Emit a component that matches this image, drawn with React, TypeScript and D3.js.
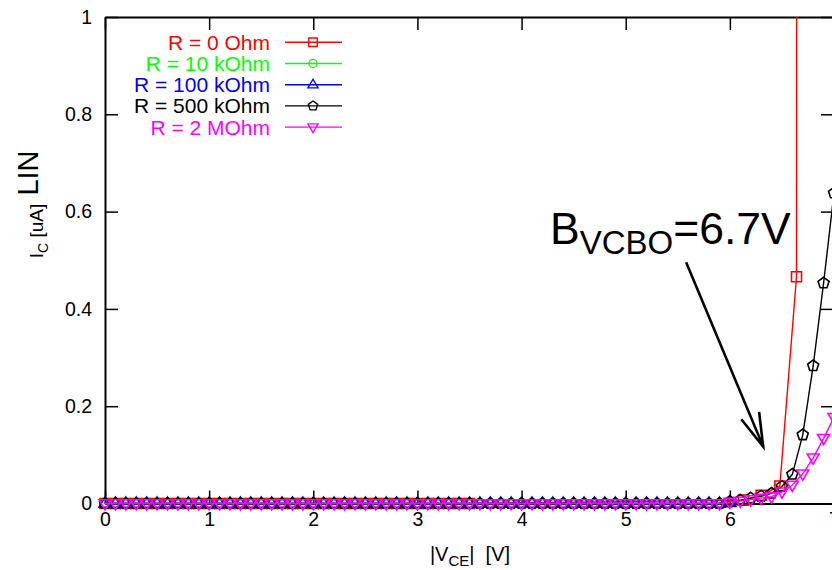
import React, { useEffect, useRef } from "react";
import * as d3 from "d3";

// sweep voltages |V_CE| [V]
const vSweep = [
  0.0, 0.1, 0.2, 0.3, 0.4, 0.5, 0.6, 0.7, 0.8, 0.9,
  1.0, 1.1, 1.2, 1.3, 1.4, 1.5, 1.6, 1.7, 1.8, 1.9,
  2.0, 2.1, 2.2, 2.3, 2.4, 2.5, 2.6, 2.7, 2.8, 2.9,
  3.0, 3.1, 3.2, 3.3, 3.4, 3.5, 3.6, 3.7, 3.8, 3.9,
  4.0, 4.1, 4.2, 4.3, 4.4, 4.5, 4.6, 4.7, 4.8, 4.9,
  5.0, 5.1, 5.2, 5.3, 5.4, 5.5, 5.6, 5.7, 5.8, 5.9,
  6.0, 6.1, 6.2, 6.3, 6.4, 6.5, 6.6, 6.7, 6.8, 6.9,
  7.0, 7.1,
];

// R = 0 Ohm has its own voltages
const vRed = [
  0.0, 0.1, 0.2, 0.3, 0.4, 0.5, 0.6, 0.7, 0.8, 0.9,
  1.0, 1.1, 1.2, 1.3, 1.4, 1.5, 1.6, 1.7, 1.8, 1.9,
  2.0, 2.1, 2.2, 2.3, 2.4, 2.5, 2.6, 2.7, 2.8, 2.9,
  3.0, 3.1, 3.2, 3.3, 3.4, 3.5,
  6.13, 6.3, 6.48, 6.64, 6.65,
];
const iRed = [
  0, 0, 0, 0, 0, 0, 0, 0, 0, 0,
  0, 0, 0, 0, 0, 0, 0, 0, 0, 0,
  0, 0, 0, 0, 0, 0, 0, 0, 0, 0,
  0, 0, 0, 0, 0, 0,
  0.007, 0.017, 0.036, 0.466, 5.0,
];

// I_C [uA] for the other resistors (on vSweep)
const iGreen = [
  0, 0, 0, 0, 0, 0, 0, 0, 0, 0,
  0, 0, 0, 0, 0, 0, 0, 0, 0, 0,
  0, 0, 0, 0, 0, 0, 0, 0, 0, 0,
  0, 0, 0, 0, 0, 0, 0, 0, 0, 0,
  0, 0, 0, 0, 0, 0, 0, 0, 0, 0,
  0, 0, 0, 0, 0, 0, 0, 0, 0, 0,
  0.002,
];
const iBlue = [
  0, 0, 0, 0, 0, 0, 0, 0, 0, 0,
  0, 0, 0, 0, 0, 0, 0, 0, 0, 0,
  0, 0, 0, 0, 0, 0, 0, 0, 0, 0,
  0, 0, 0, 0, 0, 0, 0, 0, 0, 0,
  0, 0, 0, 0, 0, 0, 0, 0, 0, 0,
  0, 0, 0, 0, 0, 0, 0, 0, 0, 0,
  0.002,
];
const iBlack = [
  0, 0, 0, 0, 0, 0, 0, 0, 0, 0,
  0, 0, 0, 0, 0, 0, 0, 0, 0, 0,
  0, 0, 0, 0, 0, 0, 0, 0, 0, 0,
  0, 0, 0, 0, 0, 0, 0, 0, 0, 0,
  0, 0, 0, 0, 0, 0, 0, 0, 0, 0,
  0, 0, 0, 0, 0, 0, 0, 0, 0, 0,
  0.004, 0.007, 0.011, 0.015, 0.021, 0.035, 0.06, 0.141, 0.283, 0.453,
  0.638, 0.82,
];
const iMagenta = [
  0, 0, 0, 0, 0, 0, 0, 0, 0, 0,
  0, 0, 0, 0, 0, 0, 0, 0, 0, 0,
  0, 0, 0, 0, 0, 0, 0, 0, 0, 0,
  0, 0, 0, 0, 0, 0, 0, 0, 0, 0,
  0, 0, 0, 0, 0, 0, 0, 0, 0, 0,
  0, 0, 0, 0, 0, 0, 0, 0, 0, 0,
  0.003, 0.005, 0.008, 0.011, 0.014, 0.024, 0.038, 0.061, 0.094, 0.134,
  0.177, 0.235,
];

const seriesNames = ["R = 0 Ohm", "R = 10 kOhm", "R = 100 kOhm", "R = 500 kOhm", "R = 2 MOhm"];
const seriesColors = ["#ff0000", "#00ff00", "#0000ff", "#000000", "#ff00ff"];

const xTicks = [0, 1, 2, 3, 4, 5, 6, 7];
const yTicks = [0, 0.2, 0.4, 0.6, 0.8, 1];

const FONT = "'Liberation Sans', Arial, Helvetica, sans-serif";

const pentagon = () => {
  const r = 5.8;
  const pts = [0, 1, 2, 3, 4].map((k) => {
    const a = (-90 + 72 * k) * Math.PI / 180;
    return `${(r * Math.cos(a)).toFixed(2)},${(r * Math.sin(a)).toFixed(2)}`;
  });
  return "M" + pts.join("L") + "Z";
};

const markerPaths = [
  "M-5,-5h10v10h-10Z",
  "M4.8,0A4.8,4.8 0 1,1 -4.8,0A4.8,4.8 0 1,1 4.8,0Z",
  "M0,-6.4L6,3.8L-6,3.8Z",
  pentagon(),
  "M0,6.4L6,-3.8L-6,-3.8Z",
];

const App = () => {
  const svgRef = useRef(null);

  useEffect(() => {
    const width = 832;
    const height = 570;
    const svg = d3.select(svgRef.current).attr("width", width).attr("height", height);
    svg.selectAll("*").remove();

    const x = d3.scaleLinear().domain([0, 7]).range([105, 834]);
    const y = d3.scaleLinear().domain([0, 1]).range([503.5, 17]);

    const series = [
      { v: vRed, i: iRed },
      { v: vSweep.slice(0, iGreen.length), i: iGreen },
      { v: vSweep.slice(0, iBlue.length), i: iBlue },
      { v: vSweep, i: iBlack },
      { v: vSweep, i: iMagenta },
    ];

    svg.append("defs").append("clipPath").attr("id", "plotclip")
      .append("rect").attr("x", 105).attr("y", 17).attr("width", 729).attr("height", 489);

    // axes with inward ticks
    const axB = svg.append("g").attr("transform", "translate(0,503.5)")
      .call(d3.axisBottom(x).tickValues(xTicks).tickSizeInner(-13).tickSizeOuter(0).tickPadding(9).tickFormat(d3.format("d")));
    const axT = svg.append("g").attr("transform", "translate(0,17)")
      .call(d3.axisTop(x).tickValues(xTicks).tickSizeInner(-13).tickSizeOuter(0).tickFormat(() => ""));
    const axL = svg.append("g").attr("transform", "translate(105,0)")
      .call(d3.axisLeft(y).tickValues(yTicks).tickSizeInner(-13).tickSizeOuter(0).tickPadding(13).tickFormat((d) => String(d)));
    const axR = svg.append("g").attr("transform", "translate(834,0)")
      .call(d3.axisRight(y).tickValues(yTicks).tickSizeInner(-13).tickSizeOuter(0).tickFormat(() => ""));

    [axB, axT, axL, axR].forEach((g) => {
      g.select(".domain").attr("stroke", "#000").attr("stroke-width", 2);
      g.selectAll(".tick line").attr("stroke", "#000").attr("stroke-width", 1.5);
      g.selectAll("text").attr("font-family", FONT).attr("font-size", 19.5).attr("fill", "#000");
    });

    const line = d3.line()
      .x((d) => x(d[0]))
      .y((d) => y(d[1]));

    series.forEach((s, k) => {
      const pts = s.v.map((v, j) => [v, s.i[j]]);
      svg.append("path")
        .attr("clip-path", "url(#plotclip)")
        .attr("d", line(pts))
        .attr("fill", "none")
        .attr("stroke", seriesColors[k])
        .attr("stroke-width", 1.4);
      svg.append("g")
        .selectAll("path")
        .data(pts.filter((p) => p[1] <= 1 && p[0] <= 7.02))
        .enter()
        .append("path")
        .attr("d", markerPaths[k])
        .attr("transform", (d) => `translate(${x(d[0])},${y(d[1])})`)
        .attr("fill", "none")
        .attr("stroke", seriesColors[k])
        .attr("stroke-width", 1.6);
    });

    // legend
    const legend = svg.append("g");
    seriesNames.forEach((name, k) => {
      const cy = 42.3 + 21.2 * k;
      legend.append("text")
        .attr("x", 270).attr("y", cy).attr("dy", "0.36em")
        .attr("text-anchor", "end")
        .attr("font-family", FONT).attr("font-size", 21)
        .attr("fill", seriesColors[k])
        .text(name);
      legend.append("line")
        .attr("x1", 285).attr("x2", 342).attr("y1", cy).attr("y2", cy)
        .attr("stroke", seriesColors[k]).attr("stroke-width", 1.4);
      legend.append("path")
        .attr("d", markerPaths[k])
        .attr("transform", `translate(313,${cy}) scale(0.85)`)
        .attr("fill", "none")
        .attr("stroke", seriesColors[k])
        .attr("stroke-width", 1.6);
    });

    // annotation arrow
    const ax0 = x(5.58), ay0 = y(0.496), ax1 = x(6.32), ay1 = y(0.117);
    const ang = Math.atan2(ay0 - ay1, ax0 - ax1);
    const hl = 35, ha = 16 * Math.PI / 180;
    const arrow = svg.append("g").attr("stroke", "#000").attr("stroke-width", 2.6).attr("fill", "none");
    arrow.append("line").attr("x1", ax0).attr("y1", ay0).attr("x2", ax1).attr("y2", ay1);
    arrow.append("path").attr("d",
      `M${ax1 + hl * Math.cos(ang + ha)},${ay1 + hl * Math.sin(ang + ha)}L${ax1},${ay1}L${ax1 + hl * Math.cos(ang - ha)},${ay1 + hl * Math.sin(ang - ha)}`);

    const ann = svg.append("text").attr("x", 550).attr("y", 244)
      .attr("font-family", FONT).attr("font-size", 44.5).attr("fill", "#000");
    ann.append("tspan").text("B");
    ann.append("tspan").attr("font-size", 33).attr("dy", 10).text("VCBO");
    ann.append("tspan").attr("dy", -10).text("=6.7V");

    // axis titles
    const xt = svg.append("text").attr("x", 470).attr("y", 561)
      .attr("text-anchor", "middle").attr("font-family", FONT).attr("font-size", 20).attr("fill", "#000")
      .attr("xml:space", "preserve").style("white-space", "pre");
    xt.append("tspan").text("|V");
    xt.append("tspan").attr("font-size", 15).attr("dy", 5).text("CE");
    xt.append("tspan").attr("dy", -5).text("|  [V]");

    const yt = svg.append("text").attr("transform", "translate(43,231) rotate(-90)")
      .attr("text-anchor", "middle").attr("font-family", FONT).attr("font-size", 19).attr("fill", "#000")
      .style("white-space", "pre");
    yt.append("tspan").text("I");
    yt.append("tspan").attr("font-size", 14).attr("dy", 5).text("C");
    yt.append("tspan").attr("dy", -5).text(" [uA]");

    svg.append("text").attr("transform", "translate(38,173) rotate(-90)")
      .attr("text-anchor", "middle").attr("font-family", FONT).attr("font-size", 29).attr("fill", "#000")
      .text("LIN");
  }, []);

  return (
    <div style={{ position: "absolute", left: 0, top: 0, width: 832, height: 570, overflow: "hidden", background: "#fff" }}>
      <svg ref={svgRef} style={{ display: "block" }}></svg>
    </div>
  );
};

export default App;
